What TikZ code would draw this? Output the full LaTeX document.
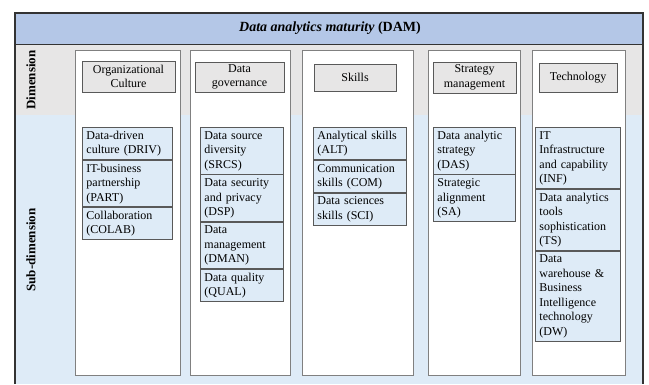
\documentclass[tikz,border=0pt]{standalone}
\usepackage{fontspec}
\setmainfont{Liberation Serif}
\definecolor{titleblue}{HTML}{B4C7E7}
\definecolor{dimgrey}{HTML}{E7E6E6}
\definecolor{subblue}{HTML}{DEEBF7}
\definecolor{framedark}{HTML}{333333}
\definecolor{boxline}{HTML}{595959}
\definecolor{colline}{HTML}{808080}

\begin{document}
\begin{tikzpicture}[x=1pt,y=-1pt,
  column/.style={draw=colline, fill=white, line width=0.9pt, inner sep=0pt,
    anchor=north west, minimum height=325pt},
  header/.style={draw=boxline, fill=dimgrey, line width=0.9pt, align=center,
    inner sep=0pt, font=\fontsize{12}{14.5}\selectfont},
  cell/.style={draw=boxline, fill=subblue, line width=0.9pt, align=left,
    inner xsep=4pt, inner ysep=1.5pt, anchor=north west,
    font=\fontsize{12}{14.5}\selectfont, text width=#1,
    execute at begin node=\strut, execute at end node=\strut},
  rowlabel/.style={rotate=90, font=\bfseries\fontsize{13}{15}\selectfont}
]
\useasboundingbox (0,0) rectangle (649,384);

% background bands
\fill[titleblue] (15,13) rectangle (643,44);
\fill[dimgrey] (15,44) rectangle (643,115);
\fill[subblue] (15,115) rectangle (643,384);
\draw[framedark, line width=1.2pt] (15,384) -- (15,13) -- (643,13) -- (643,384);
\draw[framedark, line width=0.9pt] (15,44) -- (643,44);

% title and row labels
\node (title) at (330,28.5) {\fontsize{14}{16}\selectfont\textbf{\textit{Data analytics maturity}} \textbf{(DAM)}};
\node[rowlabel] (dimlabel) at (31,80) {Dimension};
\node[rowlabel] (sublabel) at (31,250) {Sub-dimension};

% dimension columns
\node[column, minimum width=105pt] (col1) at (75,50) {};
\node[column, minimum width=100pt] (col2) at (190,50) {};
\node[column, minimum width=111pt] (col3) at (302,50) {};
\node[column, minimum width=92pt]  (col4) at (428,50) {};
\node[column, minimum width=93pt]  (col5) at (532,50) {};

% dimension headers
\node[header, minimum width=93pt, minimum height=31pt] (h1) at (128.5,76.5) {Organizational\\Culture};
\node[header, minimum width=89pt, minimum height=30pt] (h2) at (239.5,77) {Data\\governance};
\node[header, minimum width=82pt, minimum height=27pt] (h3) at (355,77.5) {Skills};
\node[header, minimum width=83pt, minimum height=31pt] (h4) at (474.5,77.5) {Strategy\\management};
\node[header, minimum width=78pt, minimum height=29pt] (h5) at (578,77.5) {Technology};

% sub-dimensions: organizational culture
\node[cell=82pt] (driv) at (82,127) {Data-driven\\culture (DRIV)};
\node[cell=82pt] (part) at (driv.south west) {IT-business\\partnership\\(PART)};
\node[cell=82pt] (colab) at (part.south west) {Collaboration\\(COLAB)};

% sub-dimensions: data governance
\node[cell=75pt] (srcs) at (200,127) {Data source\\diversity\\(SRCS)};
\node[cell=75pt] (dsp) at (srcs.south west) {Data security\\and privacy\\(DSP)};
\node[cell=75pt] (dman) at (dsp.south west) {Data\\management\\(DMAN)};
\node[cell=75pt] (qual) at (dman.south west) {Data quality\\(QUAL)};

% sub-dimensions: skills
\node[cell=85pt] (alt) at (313,127) {Analytical skills\\(ALT)};
\node[cell=85pt] (com) at (alt.south west) {Communication\\skills (COM)};
\node[cell=85pt] (sci) at (com.south west) {Data sciences\\skills (SCI)};

% sub-dimensions: strategy management
\node[cell=74pt] (das) at (433,127) {Data analytic\\strategy\\(DAS)};
\node[cell=74pt] (sa) at (das.south west) {Strategic\\alignment\\(SA)};

% sub-dimensions: technology
\node[cell=77pt] (inf) at (535,127) {IT\\Infrastructure\\and capability\\(INF)};
\node[cell=77pt] (ts) at (inf.south west) {Data analytics\\tools\\sophistication\\(TS)};
\node[cell=77pt] (dw) at (ts.south west) {Data\\warehouse \&\\Business\\Intelligence\\technology\\(DW)};
\end{tikzpicture}
\end{document}
